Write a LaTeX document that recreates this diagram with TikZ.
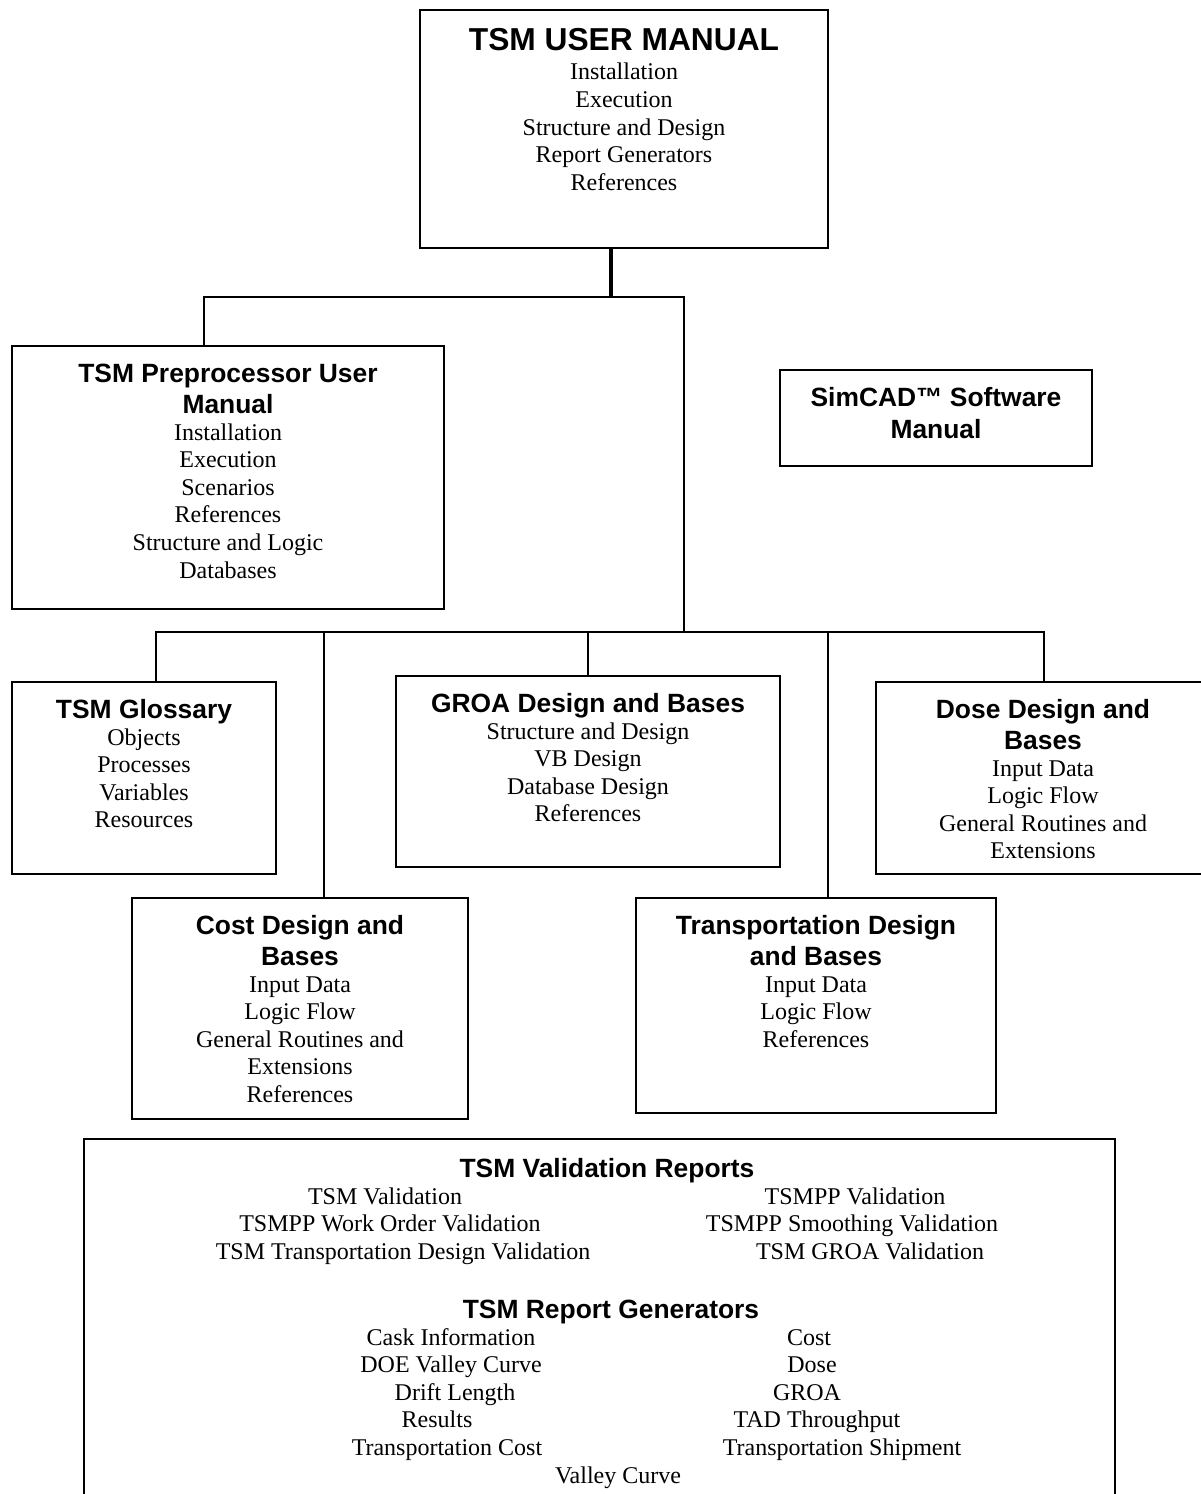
\documentclass[tikz,border=0pt]{standalone}
\usepackage{fontspec}
\setmainfont{Liberation Serif}
\setsansfont{Liberation Sans}

% rectangle given by its corners (x1,y1) and (x2,y2), in pixel units
\newcommand{\docbox}[5]{%
  \node[box, minimum width={(#4-#2)*0.75pt}, minimum height={(#5-#3)*0.75pt}] (#1) at (#2,#3) {};}

\begin{document}
\begin{tikzpicture}[x=0.75pt, y=-0.75pt,
  box/.style={draw, line width=1.5pt, inner sep=0pt, outer sep=0pt, anchor=north west},
  wire/.style={line width=1.4pt},
  trunk/.style={line width=2.6pt},
  bighead/.style={font=\fontsize{23.8}{28}\selectfont\sffamily\bfseries, anchor=base, inner sep=0pt},
  head/.style={font=\fontsize{19.8}{23.25}\selectfont\sffamily\bfseries, anchor=base, inner sep=0pt},
  item/.style={font=\fontsize{18}{20.7}\selectfont, anchor=base, inner sep=0pt}]

\useasboundingbox (0,0) rectangle (1201,1494);
\clip (0,0) rectangle (1201,1494);

% ---------- boxes ----------
\docbox{top}{420}{10}{828}{248}
\docbox{pre}{12}{346}{444}{609}
\docbox{sim}{780}{370}{1092}{466}
\docbox{glo}{12}{682}{276}{874}
\docbox{groa}{396}{676}{780}{867}
\docbox{dose}{876}{682}{1214}{874}
\docbox{cost}{132}{898}{468}{1119}
\docbox{trans}{636}{898}{996}{1113}
\docbox{val}{84}{1139}{1115}{1512}

% ---------- connectors ----------
\coordinate (jTop) at (611,297);
\coordinate (jPre) at (204,297);
\coordinate (jMid) at (684,297);
\coordinate (jRow) at (684,632);
\draw[trunk] (jTop |- top.south) -- (jTop);
\draw[wire] (jPre |- pre.north) -- (jPre) -- (jMid) -- (jRow);

\coordinate (cGlo) at (156,632);
\coordinate (cCost) at (324,632);
\coordinate (cGroa) at (588,632);
\coordinate (cTrans) at (828,632);
\coordinate (cDose) at (1044,632);
\draw[wire] (cGlo |- glo.north) -- (cGlo) -- (cDose) -- (cDose |- dose.north);
\draw[wire] (cCost) -- (cCost |- cost.north);
\draw[wire] (cGroa) -- (cGroa |- groa.north);
\draw[wire] (cTrans) -- (cTrans |- trans.north);

% ---------- texts ----------
\node[bighead] (top-t) at (624,51) {TSM USER MANUAL};
\foreach \s [count=\i] in {Installation,Execution,Structure and Design,Report Generators,References}
  \node[item] (top-\i) at (624,{80+(\i-1)*27.6}) {\s};

\node[head] (pre-t1) at (228,382) {TSM Preprocessor User};
\node[head] (pre-t2) at (228,413) {Manual};
\foreach \s [count=\i] in {Installation,Execution,Scenarios,References,Structure and Logic,Databases}
  \node[item] (pre-\i) at (228,{440+(\i-1)*27.6}) {\s};

\node[head] (sim-t1) at (936,406) {SimCAD™ Software};
\node[head] (sim-t2) at (936,438) {Manual};

\node[head] (glo-t) at (144,718) {TSM Glossary};
\foreach \s [count=\i] in {Objects,Processes,Variables,Resources}
  \node[item] (glo-\i) at (144,{745+(\i-1)*27.6}) {\s};

\node[head] (groa-t) at (588,712) {GROA Design and Bases};
\foreach \s [count=\i] in {Structure and Design,VB Design,Database Design,References}
  \node[item] (groa-\i) at (588,{739+(\i-1)*27.6}) {\s};

\node[head] (dose-t1) at (1043,718) {Dose Design and};
\node[head] (dose-t2) at (1043,749) {Bases};
\foreach \s [count=\i] in {Input Data,Logic Flow,General Routines and,Extensions}
  \node[item] (dose-\i) at (1043,{776+(\i-1)*27.6}) {\s};

\node[head] (cost-t1) at (300,934) {Cost Design and};
\node[head] (cost-t2) at (300,965) {Bases};
\foreach \s [count=\i] in {Input Data,Logic Flow,General Routines and,Extensions,References}
  \node[item] (cost-\i) at (300,{992+(\i-1)*27.6}) {\s};

\node[head] (trans-t1) at (816,934) {Transportation Design};
\node[head] (trans-t2) at (816,965) {and Bases};
\foreach \s [count=\i] in {Input Data,Logic Flow,References}
  \node[item] (trans-\i) at (816,{992+(\i-1)*27.6}) {\s};

% validation reports, two columns
\node[head] (val-t) at (607,1177) {TSM Validation Reports};
\node[item] (val-l1) at (385,1204) {TSM Validation};
\node[item] (val-l2) at (390,1231.6) {TSMPP Work Order Validation};
\node[item] (val-l3) at (403,1259.2) {TSM Transportation Design Validation};
\node[item] (val-r1) at (855,1204) {TSMPP Validation};
\node[item] (val-r2) at (852,1231.6) {TSMPP Smoothing Validation};
\node[item] (val-r3) at (870,1259.2) {TSM GROA Validation};

% report generators, two columns and a last centred line
\node[head] (gen-t) at (611,1318) {TSM Report Generators};
\node[item] (gen-l1) at (451,1345) {Cask Information};
\node[item] (gen-l2) at (451,1372.6) {DOE Valley Curve};
\node[item] (gen-l3) at (455,1400.2) {Drift Length};
\node[item] (gen-l4) at (437,1427.8) {Results};
\node[item] (gen-l5) at (447,1455.4) {Transportation Cost};
\node[item] (gen-r1) at (809,1345) {Cost};
\node[item] (gen-r2) at (812,1372.6) {Dose};
\node[item] (gen-r3) at (807,1400.2) {GROA};
\node[item] (gen-r4) at (817,1427.8) {TAD Throughput};
\node[item] (gen-r5) at (842,1455.4) {Transportation Shipment};
\node[item] (gen-c) at (618,1483) {Valley Curve};
\end{tikzpicture}
\end{document}
